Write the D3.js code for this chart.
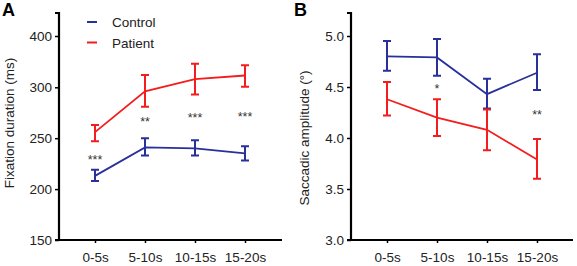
<!DOCTYPE html>
<html>
<head>
<meta charset="utf-8">
<script src="https://cdn.jsdelivr.net/npm/d3@7"></script>
<style>
body { margin: 0; background: #fff; }
svg { display: block; font-family: Arial, "Liberation Sans", sans-serif; }
</style>
</head>
<body>
<svg id="chart" width="577" height="266"></svg>
<script>
var periods = ['0-5s', '5-10s', '10-15s', '15-20s'];

// Panel A: fixation duration (ms)
var fixControl = [213, 241, 240, 235];
var fixControlHi = [219, 250, 248, 242];
var fixControlLo = [208, 233, 233, 228];
var fixPatient = [256, 296, 316, 323];
var fixPatientHi = [263, 324, 346, 343];
var fixPatientLo = [247, 281, 293, 301];
var fixStars = ['***', '**', '***', '***'];
var fixStarY = [228, 265, 269, 270];
var fixTicks = [150, 200, 250, 300, 400];

// Panel B: saccadic amplitude (deg)
var sacControl = [4.80, 4.79, 4.43, 4.64];
var sacControlHi = [4.95, 4.97, 4.58, 4.82];
var sacControlLo = [4.66, 4.61, 4.29, 4.47];
var sacPatient = [4.38, 4.20, 4.08, 3.79];
var sacPatientHi = [4.55, 4.38, 4.28, 3.99];
var sacPatientLo = [4.22, 4.02, 3.88, 3.60];
var sacStars = ['', '*', '', '**'];
var sacStarY = [0, 4.47, 0, 4.22];
var sacTicks = [3.0, 3.5, 4.0, 4.5, 5.0];

var blue = '#28309a';
var red = '#f41c1c';

var svg = d3.select('#chart');

function drawPanel(opt) {
    var g = svg.append('g');
    var x = d3.scalePoint().domain(periods).range([opt.x0 + 36, opt.x0 + 186]);
    var y = opt.y;

    // axes
    var yAxis = d3.axisLeft(y).tickValues(opt.ticks).tickSize(4).tickFormat(opt.fmt);
    var ya = g.append('g').attr('transform', 'translate(' + opt.x0 + ',0)').call(yAxis);
    ya.select('.domain').attr('d', 'M-4,13H0V240H-4').attr('stroke-width', 2.2);
    var xAxis = d3.axisBottom(x).tickSize(3).tickPadding(9);
    var xa = g.append('g').attr('transform', 'translate(0,240)').call(xAxis);
    xa.select('.domain').attr('d', 'M' + (opt.x0 - 1) + ',0H' + opt.xEnd).attr('stroke-width', 2.2);
    g.selectAll('.tick line').attr('stroke-width', 1.5);
    g.selectAll('.tick text').attr('font-size', 13.5).attr('fill', '#222')
        .attr('font-family', 'Arial, "Liberation Sans", sans-serif');

    // y title
    g.append('text')
        .attr('transform', 'translate(' + opt.titleX + ',' + y(opt.titleAt) + ') rotate(-90)')
        .attr('text-anchor', 'middle')
        .attr('font-size', 13.5)
        .attr('fill', '#222')
        .text(opt.title);

    // panel letter
    g.append('text').attr('x', opt.x0 - 57).attr('y', 16)
        .attr('font-size', 18).attr('font-weight', 'bold').text(opt.letter);

    var line = d3.line()
        .x(function(d, i) { return x(periods[i]); })
        .y(function(d) { return y(d); });

    opt.series.forEach(function(s) {
        g.append('path').datum(s.mean)
            .attr('d', line)
            .attr('fill', 'none')
            .attr('stroke', s.color)
            .attr('stroke-width', 1.8);
        var eb = g.append('g').attr('stroke', s.color).attr('stroke-width', 2).attr('fill', 'none');
        s.mean.forEach(function(m, i) {
            var cx = x(periods[i]);
            eb.append('path').attr('d',
                'M' + cx + ',' + y(s.hi[i]) + 'V' + y(s.lo[i]) +
                'M' + (cx - 4) + ',' + y(s.hi[i]) + 'H' + (cx + 4) +
                'M' + (cx - 4) + ',' + y(s.lo[i]) + 'H' + (cx + 4));
        });
    });

    g.selectAll('.star').data(opt.stars).join('text')
        .attr('class', 'star')
        .attr('x', function(d, i) { return x(periods[i]); })
        .attr('y', function(d, i) { return y(opt.starY[i]) + 3; })
        .attr('text-anchor', 'middle')
        .attr('font-size', 12.5)
        .attr('fill', '#333')
        .text(function(d) { return d; });

    return x;
}

// panel A uses a broken scale: 150-300 stretched, 300-400 compressed
var yA = d3.scaleLinear().domain([150, 300, 400]).range([240, 87.3, 36]);
drawPanel({
    x0: 59, xEnd: 282, y: yA, ticks: fixTicks, fmt: d3.format('d'),
    title: 'Fixation duration (ms)', titleX: 14, titleAt: 265, letter: 'A',
    stars: fixStars, starY: fixStarY,
    series: [
        { mean: fixControl, hi: fixControlHi, lo: fixControlLo, color: blue },
        { mean: fixPatient, hi: fixPatientHi, lo: fixPatientLo, color: red }
    ]
});

var yB = d3.scaleLinear().domain([3.0, 5.0]).range([240, 36]);
drawPanel({
    x0: 351, xEnd: 573, y: yB, ticks: sacTicks, fmt: d3.format('.1f'),
    title: 'Saccadic amplitude (°)', titleX: 309, titleAt: 4.0, letter: 'B',
    stars: sacStars, starY: sacStarY,
    series: [
        { mean: sacControl, hi: sacControlHi, lo: sacControlLo, color: blue },
        { mean: sacPatient, hi: sacPatientHi, lo: sacPatientLo, color: red }
    ]
});

// legend
var legend = svg.append('g').attr('transform', 'translate(87,22)');
var legendItems = [{ name: 'Control', color: blue }, { name: 'Patient', color: red }];
legend.selectAll('g').data(legendItems).join('g')
    .attr('transform', function(d, i) { return 'translate(0,' + i * 20.5 + ')'; })
    .each(function(d) {
        var it = d3.select(this);
        it.append('line').attr('x1', 0).attr('x2', 10).attr('stroke', d.color).attr('stroke-width', 2);
        it.append('text').attr('x', 25).attr('y', 5).attr('font-size', 13.5).attr('fill', '#222').text(d.name);
    });
</script>
</body>
</html>
